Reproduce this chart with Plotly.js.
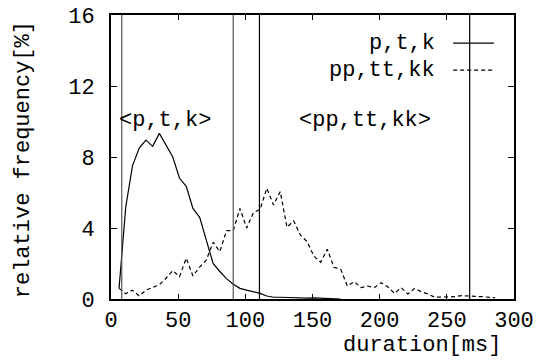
<!DOCTYPE html>
<html>
<head>
<meta charset="utf-8">
<script src="https://cdn.plot.ly/plotly-3.0.1.min.js"></script>
<style>html,body{margin:0;padding:0;background:#fff;}#chart{width:546px;height:361px;}</style>
</head>
<body>
<div id="chart"></div>
<script>
// duration bins [ms]
const ptkX = [6, 11, 16, 21, 26, 31, 36, 41, 46, 51, 56, 61, 66, 71, 76, 81, 86, 91, 96, 101, 106, 111, 116, 121, 126, 131, 136, 141, 146, 151, 156, 161, 166, 171];
const ptkY = [0.6, 5.2, 7.5, 8.5, 8.95, 8.6, 9.33, 8.65, 8.0, 6.8, 6.35, 5.1, 4.6, 3.3, 2.0, 1.55, 1.15, 0.83, 0.6, 0.5, 0.41, 0.32, 0.17, 0.1, 0.1, 0.08, 0.06, 0.05, 0.05, 0.06, 0.04, 0.03, 0.02, 0.0];
const pptX = [6, 11, 16, 21, 26, 31, 36, 41, 46, 51, 56, 61, 66, 71, 76, 81, 86, 91, 96, 101, 106, 111, 116, 121, 126, 131, 136, 141, 146, 151, 156, 161, 166, 171, 176, 181, 186, 191, 196, 201, 206, 211, 216, 221, 226, 231, 236, 241, 246, 251, 256, 261, 266, 271, 276, 281, 286];
const pptY = [0.6, 0.3, 0.5, 0.17, 0.5, 0.64, 0.8, 1.17, 1.6, 1.26, 2.3, 1.3, 1.8, 2.2, 3.2, 2.67, 3.85, 3.85, 5.1, 4.0, 4.86, 5.05, 6.24, 5.3, 6.05, 4.04, 4.4, 3.6, 3.23, 2.42, 2.07, 2.8, 1.79, 1.67, 0.73, 0.98, 0.64, 0.73, 0.64, 0.92, 0.69, 0.32, 0.64, 0.28, 0.6, 0.41, 0.28, 0.1, 0.1, 0.1, 0.13, 0.19, 0.19, 0.15, 0.13, 0.1, 0.07];
const boundaries = [8, 91, 110.5, 267];
const boundaryColors = ['#555555', '#555555', '#000000', '#000000'];
const seriesNames = ['p,t,k', 'pp,tt,kk'];
const regionLabels = ['<p,t,k>', '<pp,tt,kk>'];
const regionLabelX = [40, 189];
const regionLabelY = [10.05, 10.05];
const xTicks = [0, 50, 100, 150, 200, 250, 300];
const yTicks = [0, 4, 8, 12, 16];

const FONT = 'Liberation Mono, Courier New, monospace';

const traces = [
  {x: ptkX, y: ptkY, mode: 'lines', name: seriesNames[0], line: {color: '#000', width: 1.2}, showlegend: false},
  {x: pptX, y: pptY, mode: 'lines', name: seriesNames[1], line: {color: '#000', width: 1.2, dash: '4px,3px'}, showlegend: false}
];

const shapes = boundaries.map((b, i) => ({
  type: 'line', xref: 'x', yref: 'y', x0: b, x1: b, y0: 0, y1: 16,
  line: {color: boundaryColors[i], width: 1.2}
}));
// legend line samples
shapes.push({type: 'line', xref: 'paper', yref: 'paper', x0: 0.849, x1: 0.950, y0: 0.901, y1: 0.901, line: {color: '#000', width: 1.2}});
shapes.push({type: 'line', xref: 'paper', yref: 'paper', x0: 0.849, x1: 0.950, y0: 0.806, y1: 0.806, line: {color: '#000', width: 1.2, dash: '4px,3px'}});

const annotations = [
  {text: seriesNames[0], xref: 'paper', yref: 'paper', x: 0.809, y: 0.901, xanchor: 'right', yanchor: 'middle', showarrow: false},
  {text: seriesNames[1], xref: 'paper', yref: 'paper', x: 0.809, y: 0.806, xanchor: 'right', yanchor: 'middle', showarrow: false},
  {text: regionLabels[0], xref: 'x', yref: 'y', x: regionLabelX[0], y: regionLabelY[0], xanchor: 'center', yanchor: 'middle', showarrow: false},
  {text: regionLabels[1], xref: 'x', yref: 'y', x: regionLabelX[1], y: regionLabelY[1], xanchor: 'center', yanchor: 'middle', showarrow: false},
  {text: 'duration[ms]', xref: 'paper', yref: 'paper', x: 0.973, y: -0.165, xanchor: 'right', yanchor: 'middle', showarrow: false},
  {text: 'relative frequency[%]', xref: 'paper', yref: 'paper', x: -0.218, y: 0.489, xanchor: 'center', yanchor: 'middle', textangle: -90, showarrow: false}
];

const layout = {
  width: 546, height: 361,
  margin: {l: 111, r: 32, t: 15, b: 62, pad: 0},
  paper_bgcolor: '#fff', plot_bgcolor: '#fff',
  font: {family: FONT, size: 22, color: '#000'},
  showlegend: false,
  xaxis: {
    range: [0, 300], tickvals: xTicks, ticktext: xTicks.map(String),
    ticks: 'inside', ticklen: 5, tickwidth: 1, tickcolor: '#000',
    showline: true, linecolor: '#000', linewidth: 2, mirror: 'allticks',
    showgrid: false, zeroline: false, fixedrange: true
  },
  yaxis: {
    range: [0, 16], tickvals: yTicks, ticktext: yTicks.map(String),
    ticks: 'inside', ticklen: 6, tickwidth: 1, tickcolor: '#000',
    showline: true, linecolor: '#000', linewidth: 2, mirror: 'allticks',
    showgrid: false, zeroline: false, fixedrange: true,
    ticklabelstandoff: 10
  },
  shapes: shapes,
  annotations: annotations
};

Plotly.newPlot('chart', traces, layout, {staticPlot: true, displayModeBar: false});
</script>
</body>
</html>
